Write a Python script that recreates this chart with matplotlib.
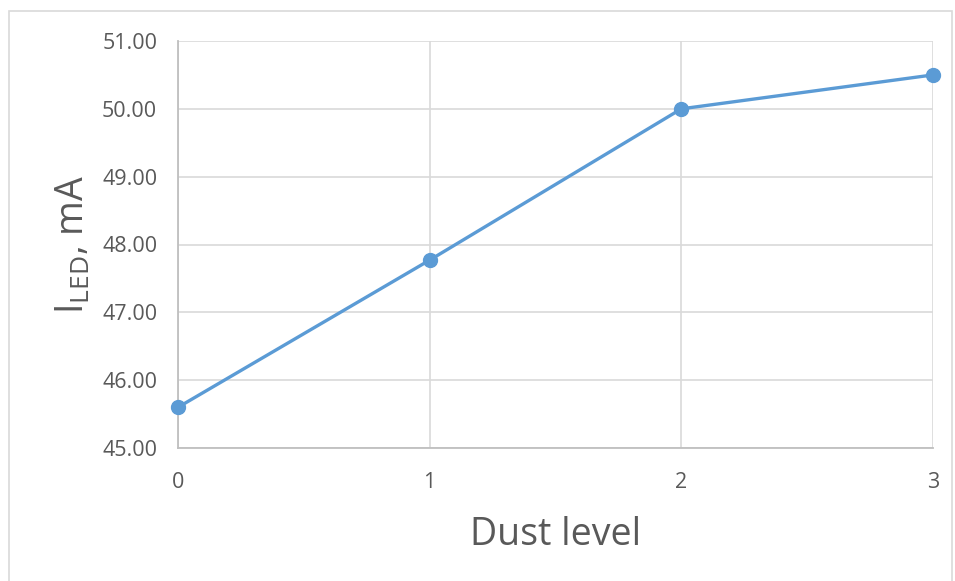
import matplotlib.pyplot as plt
from matplotlib.patches import Rectangle

plt.rcParams['font.family'] = ['Open Sans', 'DejaVu Sans']
plt.rcParams['mathtext.fontset'] = 'custom'
plt.rcParams['mathtext.rm'] = 'Open Sans'

dust_level = [0, 1, 2, 3]
i_led = [45.60, 47.77, 50.00, 50.50]
y_ticks = [45, 46, 47, 48, 49, 50, 51]

fig = plt.figure(figsize=(9.55, 5.81), dpi=100)
ax = fig.add_axes([178 / 955, 1 - 448 / 581, (933 - 178) / 955, (448 - 41) / 581])

# outer chart border like excel
fig.patches.append(Rectangle((9 / 955, -0.05), (952 - 9) / 955, 1.05 - 11 / 581,
                             transform=fig.transFigure, fill=False,
                             edgecolor='#d9d9d9', linewidth=1.2))

ax.plot(dust_level, i_led, color='#5b9bd5', linewidth=2.4, marker='o',
        markersize=10, clip_on=False, zorder=3)

ax.set_xlim(0, 3)
ax.set_ylim(45, 51)
ax.set_xticks(dust_level)
ax.set_yticks(y_ticks)
ax.set_yticklabels([f'{v:.2f}' for v in y_ticks])

ax.grid(True, color='#d9d9d9', linewidth=1.2)
ax.set_axisbelow(True)
for side in ['top', 'right']:
    ax.spines[side].set_visible(False)
for side in ['left', 'bottom']:
    ax.spines[side].set_color('#bfbfbf')
    ax.spines[side].set_linewidth(1.3)

ax.tick_params(axis='both', length=0, labelcolor='#595959', labelsize=15.5)
ax.tick_params(axis='y', pad=15)
ax.tick_params(axis='x', pad=17)

ax.set_xlabel('Dust level', fontsize=27, color='#595959', labelpad=17)
ax.set_ylabel(r'I$_\mathregular{LED}$, mA', fontsize=27, color='#595959', labelpad=7)

fig.savefig('out.png', dpi=100)
